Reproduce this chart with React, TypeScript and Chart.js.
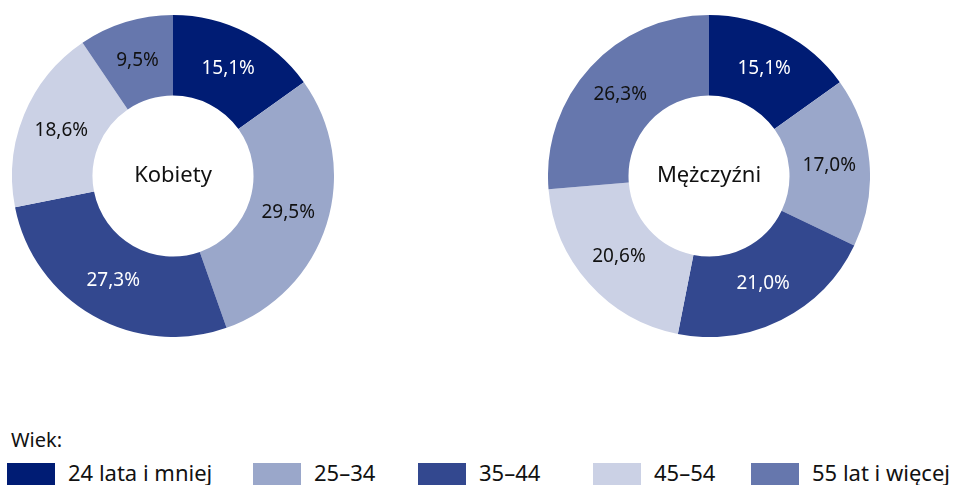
import React, { useEffect, useRef } from "react";
import { Chart, registerables } from "chart.js";

Chart.register(...registerables);

const categories = ["24 lata i mniej", "25–34", "35–44", "45–54", "55 lat i więcej"];
const kobietyValues = [15.1, 29.5, 27.3, 18.6, 9.5];
const mezczyzniValues = [15.1, 17.0, 21.0, 20.6, 26.3];
const colors = ["#001c74", "#9aa7ca", "#33488f", "#cbd1e5", "#6677ad"];
const labelColors = ["#ffffff", "#111111", "#ffffff", "#111111", "#111111"];
const FONT = "'Noto Sans', sans-serif";

const labelPlugin = {
  id: "sliceLabels",
  afterDatasetsDraw(chart: any, _args: any, opts: any) {
    const ctx = chart.ctx;
    const meta = chart.getDatasetMeta(0);
    const data = chart.data.datasets[0].data;
    ctx.save();
    ctx.textAlign = "center";
    ctx.textBaseline = "middle";
    ctx.font = `19px ${FONT}`;
    meta.data.forEach((arc: any, i: number) => {
      const p = arc.tooltipPosition();
      ctx.fillStyle = labelColors[i];
      ctx.fillText(data[i].toFixed(1).replace(".", ",") + "%", p.x, p.y);
    });
    const a = meta.data[0];
    ctx.fillStyle = "#111111";
    ctx.font = `22px ${FONT}`;
    ctx.fillText(opts.title, a.x, a.y);
    ctx.restore();
  },
};

function Donut({ values, title, left }: { values: number[]; title: string; left: number }) {
  const ref = useRef<HTMLCanvasElement>(null);
  useEffect(() => {
    const chart = new Chart(ref.current!, {
      type: "doughnut",
      data: {
        labels: categories,
        datasets: [
          {
            data: values,
            backgroundColor: colors,
            borderWidth: 0,
            hoverOffset: 0,
          },
        ],
      },
      options: {
        animation: false,
        responsive: false,
        events: [],
        cutout: "50%",
        layout: { padding: 0 },
        plugins: {
          legend: { display: false },
          tooltip: { enabled: false },
          sliceLabels: { title },
        } as any,
      },
      plugins: [labelPlugin],
    });
    return () => chart.destroy();
  }, []);
  return (
    <canvas
      ref={ref}
      width={322}
      height={322}
      style={{ position: "absolute", left, top: 15, width: 322, height: 322 }}
    />
  );
}

const legendX = [7, 253, 418, 593, 751];

export default function App() {
  return (
    <div
      style={{
        position: "absolute",
        left: 0,
        top: 0,
        width: 958,
        height: 485,
        overflow: "hidden",
        background: "#ffffff",
        fontFamily: FONT,
        color: "#111111",
      }}
    >
      <Donut values={kobietyValues} title="Kobiety" left={12} />
      <Donut values={mezczyzniValues} title="Mężczyźni" left={548} />
      <div style={{ position: "absolute", left: 11, top: 426, fontSize: 20, lineHeight: "28px" }}>Wiek:</div>
      {categories.map((c, i) => (
        <React.Fragment key={c}>
          <div
            style={{
              position: "absolute",
              left: legendX[i],
              top: 463,
              width: 48,
              height: 24,
              background: colors[i],
            }}
          />
          <div
            style={{
              position: "absolute",
              left: legendX[i] + 61,
              top: 457,
              fontSize: 22,
              lineHeight: "30px",
              whiteSpace: "nowrap",
            }}
          >
            {c}
          </div>
        </React.Fragment>
      ))}
    </div>
  );
}
